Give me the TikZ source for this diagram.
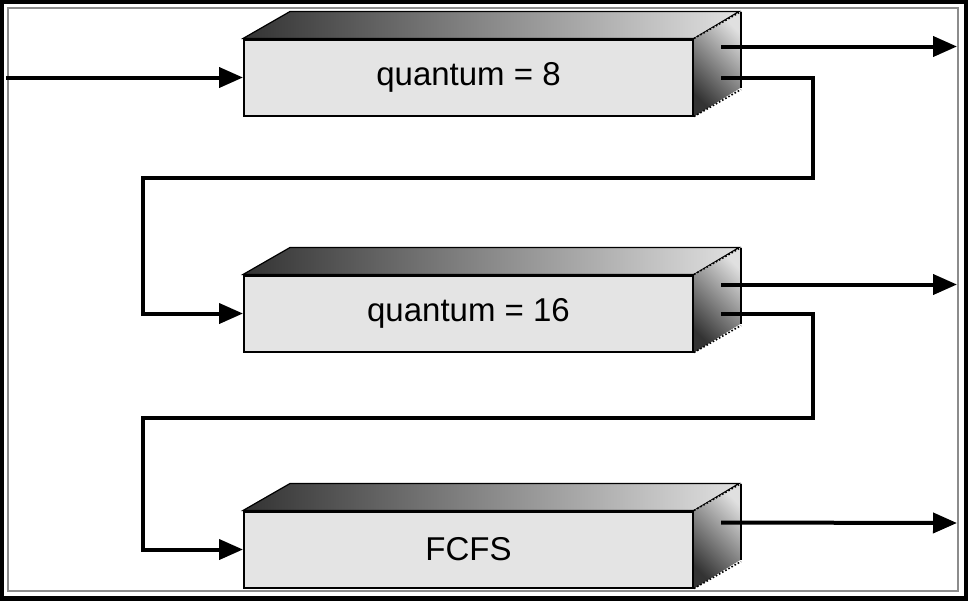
\documentclass[tikz,border=0pt]{standalone}
\usepackage{fontspec}
\setmainfont{Liberation Sans}
\usetikzlibrary{arrows.meta, calc}
\definecolor{frontgray}{RGB}{228,228,228}
\tikzstyle{queue} = [rectangle, minimum width=224.5pt, minimum height=38pt, text centered, draw=black, line width=1pt, fill=frontgray, font=\fontsize{16.5pt}{20pt}\selectfont]
\tikzstyle{topface} = [left color=black!80, right color=black!12, draw=black, line width=0.6pt]
\tikzstyle{sideface} = [top color=black!12, bottom color=black!80, shading angle=-45]
\tikzstyle{edge} = [line width=1pt]
\tikzstyle{arrow} = [line width=2pt, -{Triangle[length=12pt,width=10pt]}]
\tikzstyle{line} = [line width=2pt]

\begin{document}
\begin{tikzpicture}[x=0.5pt, y=-0.5pt, node distance=118pt]
\useasboundingbox (0,0) rectangle (968,600);
\fill[white] (0,0) rectangle (968,600);
\draw[line width=4pt] (0,0) rectangle (968,600);
\draw[black!45, line width=1pt] (8,8) rectangle (958,591);

\node (q8) [queue] at (468.5,77.5) {quantum = 8};

\node (q16) [queue, below of=q8] {quantum = 16};

\node (fcfs) [queue, below of=q16] {FCFS};

% top and side faces
\shadedraw[topface] (q8.north west) -- ++(47,-27) -- ++(449,0) -- (q8.north east) -- cycle;
\shadedraw[topface] (q16.north west) -- ++(47,-27) -- ++(449,0) -- (q16.north east) -- cycle;
\shadedraw[topface] (fcfs.north west) -- ++(47,-27) -- ++(449,0) -- (fcfs.north east) -- cycle;
\shade[sideface] (q8.north east) -- ++(47,-27) -- ++(0,76) -- (q8.south east) -- cycle;
\shade[sideface] (q16.north east) -- ++(47,-27) -- ++(0,76) -- (q16.south east) -- cycle;
\shade[sideface] (fcfs.north east) -- ++(47,-27) -- ++(0,76) -- (fcfs.south east) -- cycle;
\draw[edge] ($(q8.north east)+(47,-27)$) -- ++(0,76);
\draw[edge] ($(q16.north east)+(47,-27)$) -- ++(0,76);
\draw[edge] ($(fcfs.north east)+(47,-27)$) -- ++(0,76);
\draw[densely dotted, thick] (q8.north east) -- ++(47,-27) (q8.south east) -- ++(47,-27);
\draw[densely dotted, thick] (q16.north east) -- ++(47,-27) (q16.south east) -- ++(47,-27);
\draw[densely dotted, thick] (fcfs.north east) -- ++(47,-27) (fcfs.south east) -- ++(47,-27);

\coordinate (start) at (6,77.5);
\coordinate (q8top) at ($(q8.east)+(27,-31)$);
\coordinate (q8mid) at ($(q8.east)+(27,0)$);
\coordinate (q16top) at ($(q16.east)+(27,-29)$);
\coordinate (q16mid) at ($(q16.east)+(27,0)$);
\coordinate (fcfstop) at ($(fcfs.east)+(27,-27)$);
\coordinate (exit8) at (957,46.5);
\coordinate (exit16) at (957,284.5);
\coordinate (exitfcfs) at (957,523);
\coordinate (drop8) at (813,178);
\coordinate (back8) at (143,178);
\coordinate (drop16) at (813,418);
\coordinate (back16) at (143,418);

\draw [arrow] (start) -- (q8.west);
\draw [arrow] (q8top) -- (exit8);
\draw [arrow] (q16top) -- (exit16);
\draw [arrow] (fcfstop) -- (exitfcfs);
\draw [arrow] (q8mid) -| (drop8) -- (back8) |- (q16.west);
\draw [arrow] (q16mid) -| (drop16) -- (back16) |- (fcfs.west);
\end{tikzpicture}
\end{document}
